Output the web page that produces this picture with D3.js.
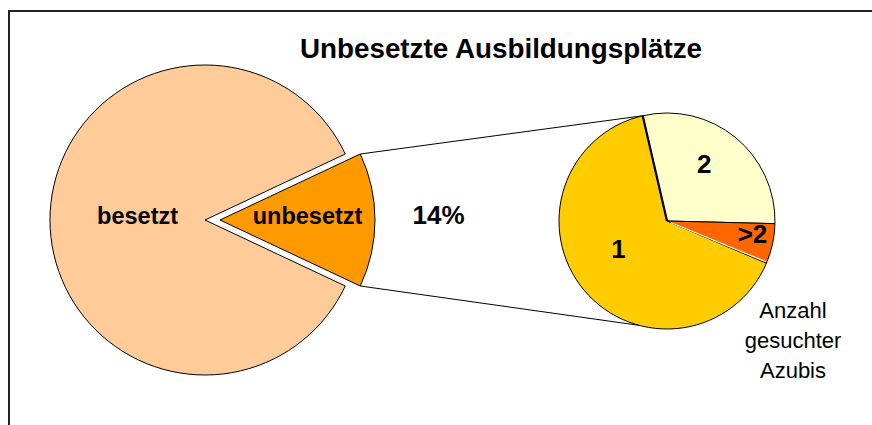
<!DOCTYPE html>
<meta charset="utf-8">
<style>
body{margin:0;background:white;font-family:"Liberation Sans",Arial,sans-serif;}
svg{display:block}
.slice{stroke:#000;stroke-width:1}
.lbl{font-weight:bold;text-anchor:middle;fill:#000}
</style>
<svg id="chart"></svg>
<script src="https://cdn.jsdelivr.net/npm/d3@7"></script>
<script>

var mainCategories = ['besetzt', 'unbesetzt'],
    mainValues = [86, 14],
    mainColors = ['#ffcc99', '#ff9900']

var subCategories = ['2', '>2', '1'],
    subValues = [29, 6, 65],
    subColors = ['#ffffcc', '#ff6600', '#ffcc00']

var title = 'Unbesetzte Ausbildungsplätze',
    shareLabel = '14%',
    legendLines = ['Anzahl', 'gesuchter', 'Azubis']

var width = 872,
    height = 425,
    deg = Math.PI / 180

var big = {cx: 205, cy: 220, r: 155, explode: 15},
    small = {cx: 667, cy: 221, r: 108, start: -13 * deg}

var svg = d3.select('#chart').attr('width', width).attr('height', height)

// frame (only top and left edge are visible)
svg.append('path')
    .attr('d', 'M9,' + height + 'V11H' + width)
    .attr('fill', 'none')
    .attr('stroke', '#222')
    .attr('stroke-width', 2)

svg.append('text')
    .attr('class', 'lbl')
    .attr('x', 501)
    .attr('y', 58)
    .style('font-size', '27.8px')
    .text(title)

// main pie, the unbesetzt slice centred on 3 o'clock
var share = mainValues[1] / d3.sum(mainValues)
var mainStart = Math.PI / 2 + share * Math.PI - 2 * Math.PI
var mainPie = d3.pie().sort(null)
    .startAngle(mainStart)
    .endAngle(mainStart + 2 * Math.PI)
var mainArcs = mainPie(mainValues)

var arcBig = d3.arc().innerRadius(0).outerRadius(big.r)

function offset(d, i) {
  if (i === 0) return [0, 0]
  var mid = (d.startAngle + d.endAngle) / 2
  return [big.explode * Math.sin(mid), -big.explode * Math.cos(mid)]
}

var gBig = svg.append('g').attr('transform', 'translate(' + big.cx + ',' + big.cy + ')')

gBig.selectAll('path')
    .data(mainArcs)
  .enter().append('path')
    .attr('class', 'slice')
    .attr('transform', function(d, i){ return 'translate(' + offset(d, i) + ')' })
    .attr('d', arcBig)
    .attr('fill', function(d, i){ return mainColors[i] })

var mainLabelK = [0.435, 0.565]
gBig.selectAll('text.cat')
    .data(mainArcs)
  .enter().append('text')
    .attr('class', 'lbl cat')
    .attr('transform', function(d, i){
      var o = offset(d, i)
      var c = d3.arc().innerRadius(big.r * mainLabelK[i]).outerRadius(big.r * mainLabelK[i]).centroid(d)
      return 'translate(' + (c[0] + o[0]) + ',' + (c[1] + o[1]) + ')'
    })
    .attr('dy', '0.18em')
    .style('font-size', '23.5px')
    .text(function(d, i){ return mainCategories[i] })

// percentage label outside the slice
var un = mainArcs[1], uo = offset(un, 1)
var pc = d3.arc().innerRadius(big.r * 1.41).outerRadius(big.r * 1.41).centroid(un)
gBig.append('text')
    .attr('class', 'lbl')
    .attr('x', pc[0] + uo[0])
    .attr('y', pc[1] + uo[1])
    .attr('dy', '0.15em')
    .style('font-size', '26px')
    .text(shareLabel)

// connector lines
function pt(cx, cy, r, a){ return [cx + r * Math.sin(a), cy - r * Math.cos(a)] }
var aTop = pt(big.cx + uo[0], big.cy + uo[1], big.r, un.startAngle),
    aBot = pt(big.cx + uo[0], big.cy + uo[1], big.r, un.endAngle),
    bTop = pt(small.cx, small.cy, small.r, small.start),
    bBot = pt(small.cx, small.cy, small.r, 195 * deg)

svg.selectAll('line.conn')
    .data([[aTop, bTop], [aBot, bBot]])
  .enter().append('line')
    .attr('class', 'conn')
    .attr('x1', function(d){ return d[0][0] })
    .attr('y1', function(d){ return d[0][1] })
    .attr('x2', function(d){ return d[1][0] })
    .attr('y2', function(d){ return d[1][1] })
    .attr('stroke', '#000')
    .attr('stroke-width', 1)

// secondary pie
var subPie = d3.pie().sort(null)
    .startAngle(small.start)
    .endAngle(small.start + 2 * Math.PI)
var subArcs = subPie(subValues)
var arcSmall = d3.arc().innerRadius(0).outerRadius(small.r)

var gSmall = svg.append('g').attr('transform', 'translate(' + small.cx + ',' + small.cy + ')')

gSmall.selectAll('path')
    .data(subArcs)
  .enter().append('path')
    .attr('class', 'slice')
    .attr('d', arcSmall)
    .attr('fill', function(d, i){ return subColors[i] })

// doubled edge between 1 and 2, thin white edge between >2 and 1
var s = subArcs[0].startAngle
gSmall.append('line')
    .attr('x1', 0).attr('y1', 0)
    .attr('x2', small.r * Math.sin(s)).attr('y2', -small.r * Math.cos(s))
    .attr('stroke', '#000')
    .attr('stroke-width', 2.2)

var e = subArcs[1].endAngle - 0.6 * deg
gSmall.append('line')
    .attr('x1', 4 * Math.sin(e)).attr('y1', -4 * Math.cos(e))
    .attr('x2', (small.r - 1) * Math.sin(e)).attr('y2', -(small.r - 1) * Math.cos(e))
    .attr('stroke', '#fff')
    .attr('stroke-width', 1.2)

var subLabelK = [0.63, 0.8, 0.52],
    subLabelShift = [-6, -4, 10]
gSmall.selectAll('text')
    .data(subArcs)
  .enter().append('text')
    .attr('class', 'lbl')
    .attr('transform', function(d, i){
      var a = (d.startAngle + d.endAngle) / 2 + subLabelShift[i] * deg
      var r = small.r * subLabelK[i]
      return 'translate(' + (r * Math.sin(a)) + ',' + (-r * Math.cos(a)) + ')'
    })
    .attr('dy', '0.36em')
    .style('font-size', '26px')
    .text(function(d, i){ return subCategories[i] })

// caption under the secondary pie
svg.append('text')
    .attr('text-anchor', 'middle')
    .style('font-size', '22px')
    .selectAll('tspan')
    .data(legendLines)
  .enter().append('tspan')
    .attr('x', small.cx + 126)
    .attr('y', function(d, i){ return small.cy + 97 + i * 30 })
    .text(function(d){ return d })

</script>
